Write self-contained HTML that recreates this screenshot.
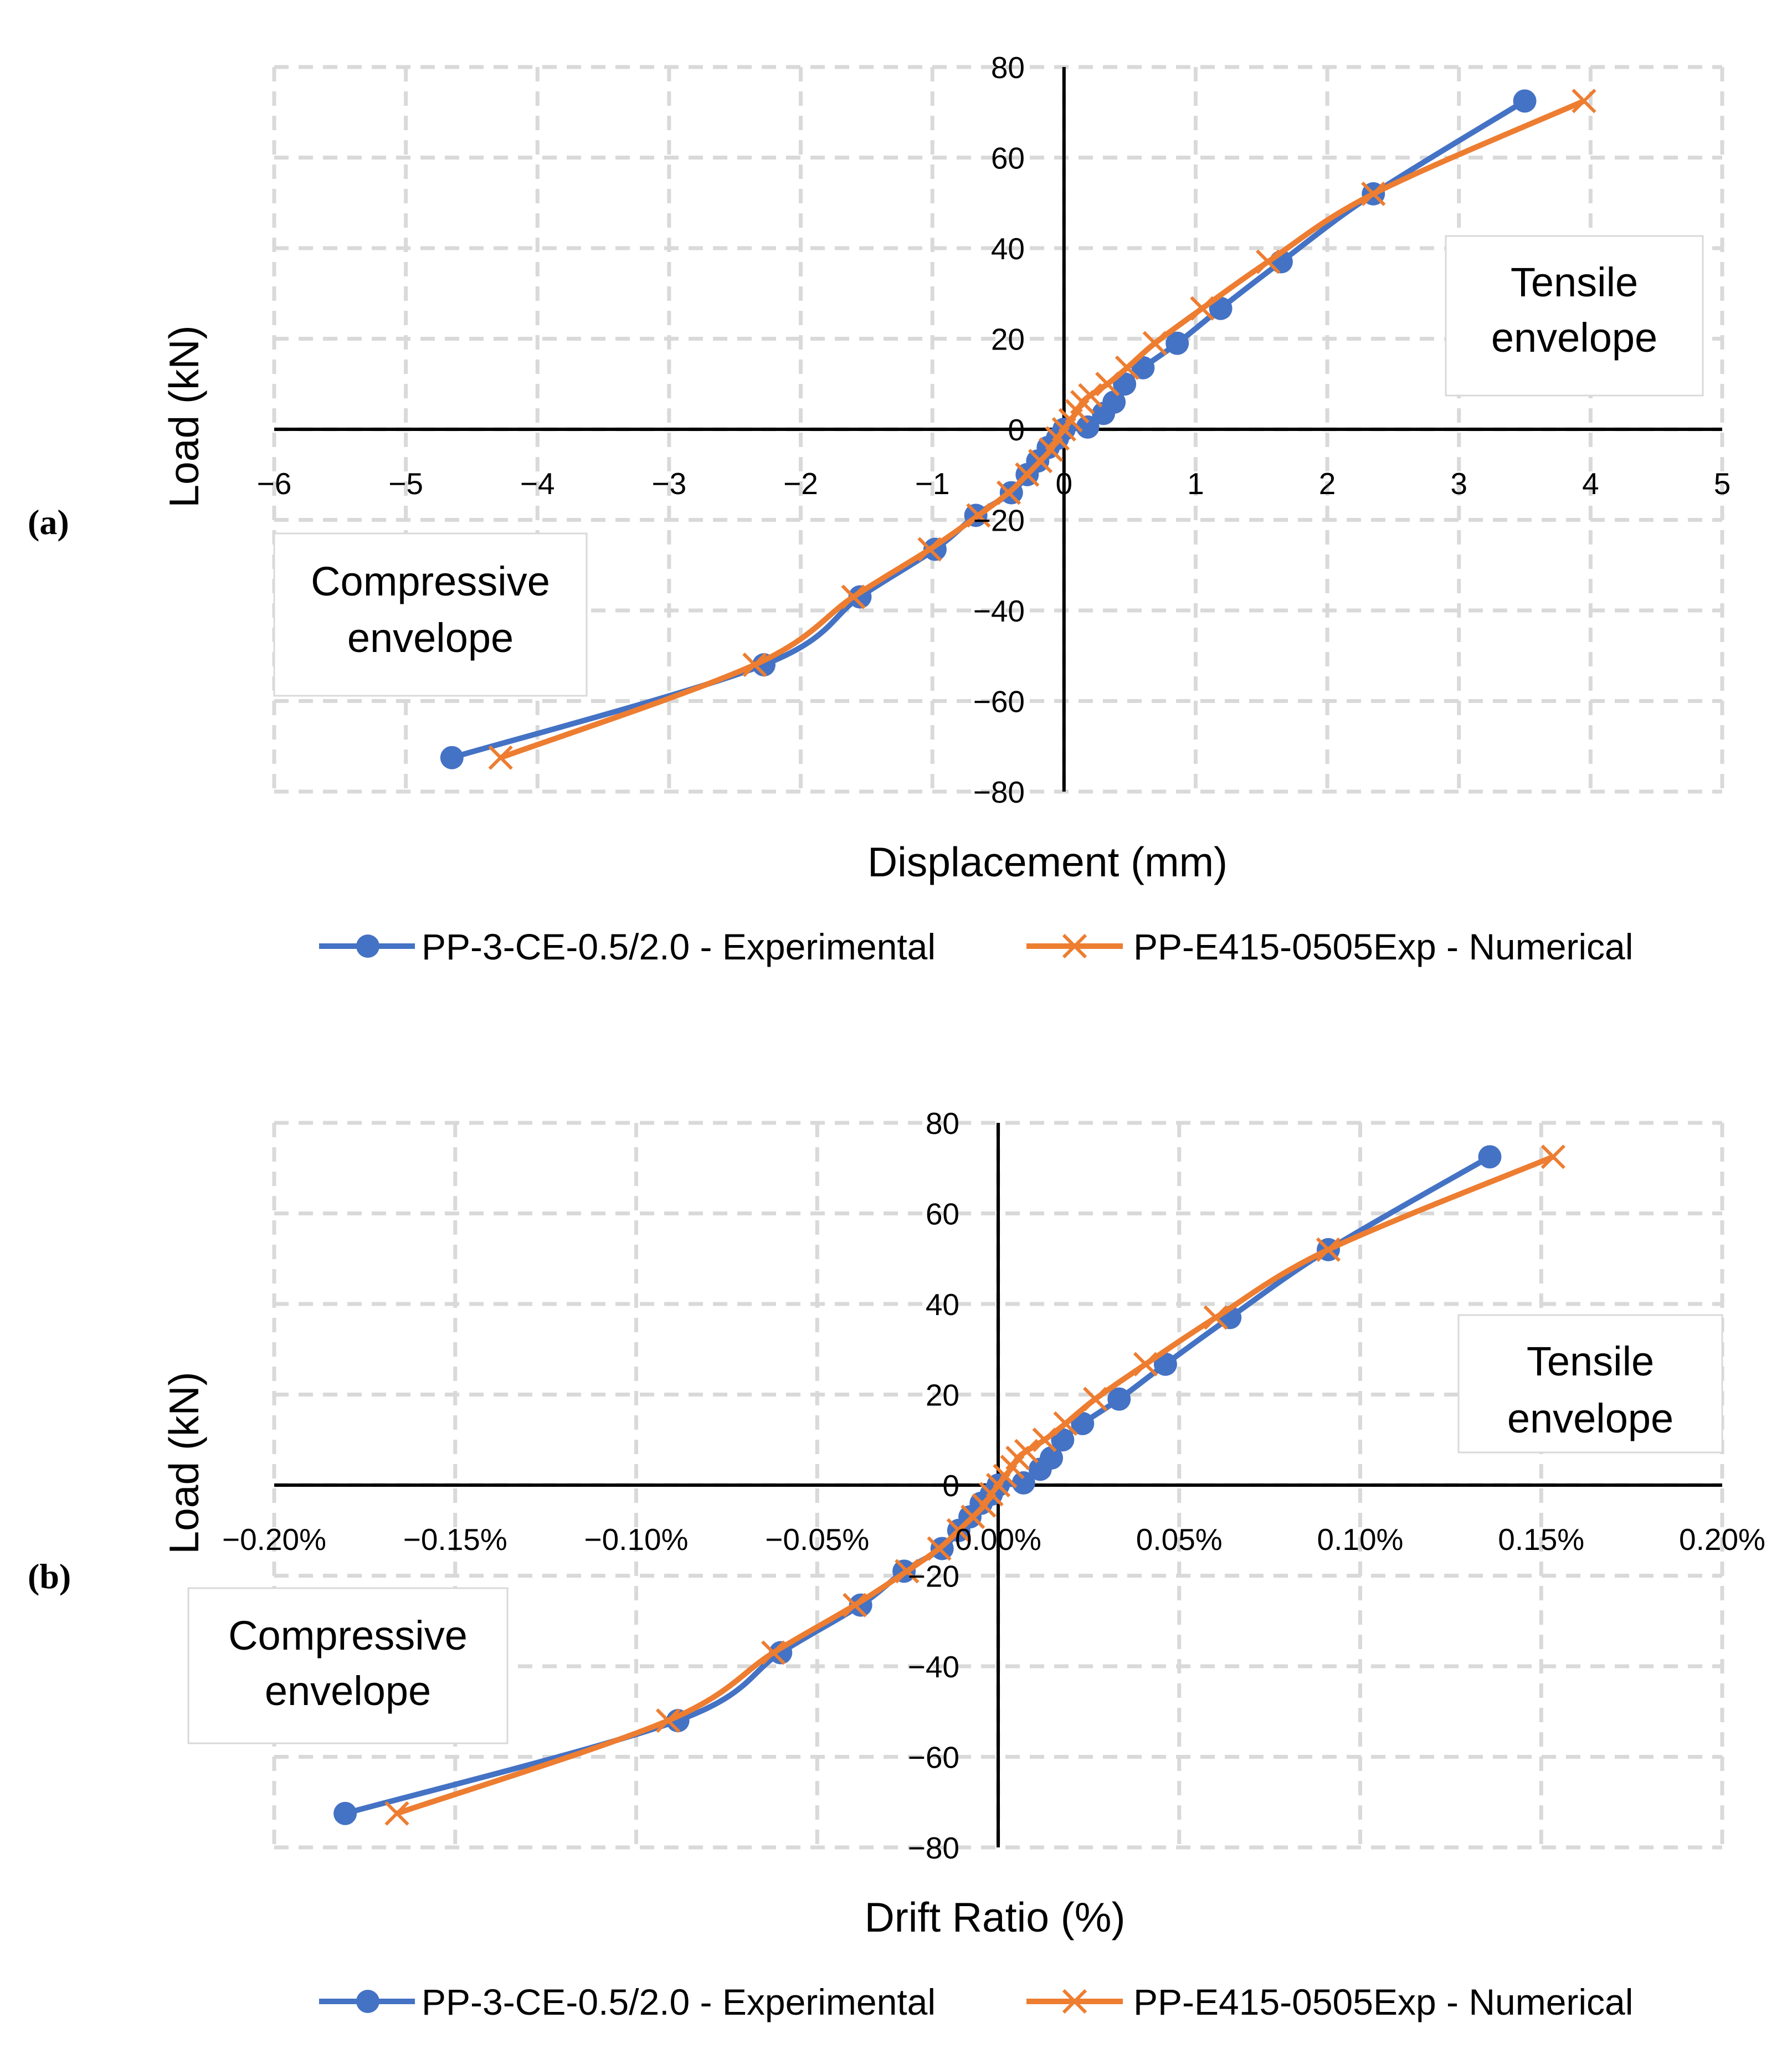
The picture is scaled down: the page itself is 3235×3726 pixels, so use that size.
<!DOCTYPE html>
<html><head><meta charset="utf-8"><style>
html,body{margin:0;padding:0;background:#fff}
svg{display:block;font-family:"Liberation Sans",sans-serif}
</style></head><body>
<svg id="c" width="3235" height="3726" viewBox="0 0 3235 3726" xmlns="http://www.w3.org/2000/svg">
<rect width="3235" height="3726" fill="#fff"/>
<g id="pa"></g>
<g id="pb"></g>
</svg>
<script>
const loadTicks=[-80,-60,-40,-20,0,20,40,60,80];
const dispTicks=[-6,-5,-4,-3,-2,-1,0,1,2,3,4,5];
const driftTicks=[-0.20,-0.15,-0.10,-0.05,0,0.05,0.10,0.15,0.20];
const driftTickLabels=["\u22120.20%","\u22120.15%","\u22120.10%","\u22120.05%","0.00%","0.05%","0.10%","0.15%","0.20%"];

const expLoad=[-72.5,-52,-37,-26.5,-19,-14,-10,-7,-4,-2,0,0.5,3.5,6,10,13.6,19,26.7,37,52,72.5];
const expDisp=[-4.65,-2.28,-1.55,-0.98,-0.67,-0.4,-0.28,-0.2,-0.12,-0.05,0,0.18,0.3,0.38,0.46,0.6,0.86,1.19,1.65,2.35,3.5];
const expDrift=[-0.1804,-0.0885,-0.0601,-0.0380,-0.0260,-0.0155,-0.0109,-0.0078,-0.0047,-0.0019,0,0.0070,0.0116,0.0147,0.0178,0.0233,0.0334,0.0462,0.0640,0.0912,0.1358];

const numLoad=[-72.5,-52,-37,-26.5,-19,-14,-10,-7,-4.5,-2,0,2,4,6,7.5,10,13.6,19,26.7,37,52,72.5];
const numDisp=[-4.28,-2.35,-1.6,-1.02,-0.65,-0.42,-0.28,-0.18,-0.1,-0.05,0,0.05,0.1,0.14,0.2,0.33,0.48,0.69,1.05,1.55,2.35,3.95];
const numDrift=[-0.1661,-0.0912,-0.0621,-0.0396,-0.0252,-0.0163,-0.0109,-0.0070,-0.0039,-0.0019,0,0.0019,0.0039,0.0054,0.0078,0.0128,0.0186,0.0268,0.0407,0.0601,0.0912,0.1533];

const NS="http://www.w3.org/2000/svg";
function mk(p,tag,a){const e=document.createElementNS(NS,tag);for(const k in a)e.setAttribute(k,a[k]);p.appendChild(e);return e;}
function smooth(pts){let d="M"+pts[0][0]+","+pts[0][1];for(let i=0;i<pts.length-1;i++){const p0=pts[i-1]||pts[i],p1=pts[i],p2=pts[i+1],p3=pts[i+2]||p2;const t=6;d+=" C"+(p1[0]+(p2[0]-p0[0])/t)+","+(p1[1]+(p2[1]-p0[1])/t)+" "+(p2[0]-(p3[0]-p1[0])/t)+","+(p2[1]-(p3[1]-p1[1])/t)+" "+p2[0]+","+p2[1];}return d;}

function panel(g,o){
  const L=495,R=3109,T=o.top,B=o.top+1308;
  const sx=v=>L+(v-o.xmin)/(o.xmax-o.xmin)*(R-L);
  const sy=v=>B-(v+80)/160*(B-T);
  const grid=mk(g,"g",{});
  
  
  o.xt.forEach(v=>{mk(grid,"line",{x1:sx(v),x2:sx(v),y1:T,y2:B,stroke:"#d9d9d9","stroke-width":7,"stroke-dasharray":"26,18"});});
  loadTicks.forEach(v=>{mk(grid,"line",{x1:L,x2:R,y1:sy(v),y2:sy(v),stroke:"#d9d9d9","stroke-width":7,"stroke-dasharray":"26,18"});});
  o.boxes.forEach(b=>{
    const bg=mk(g,"g",{});
    
    
    mk(bg,"rect",{x:b.x,y:b.y,width:b.w,height:b.h,fill:"#fff",stroke:"#d9d9d9","stroke-width":3});
    b.lines.forEach((t,i)=>{const e=mk(bg,"text",{x:b.x+b.w/2,y:b.ty[i],"font-size":74,"text-anchor":"middle"});e.textContent=t;});
  });
  const x0=sx(0),y0=sy(0);
  const ax=mk(g,"line",{x1:L,x2:R,y1:y0,y2:y0,stroke:"#000","stroke-width":6});
  
  
  const ay=mk(g,"line",{x1:x0,x2:x0,y1:T,y2:B,stroke:"#000","stroke-width":6});
  
  
  const ser=[{x:o.ex,y:expLoad,c:"#4472c4",m:"circle",n:"experimental-series"},{x:o.nx,y:numLoad,c:"#ed7d31",m:"cross",n:"numerical-series"}];
  ser.forEach(s=>{
    const sg=mk(g,"g",{});
    
    
    const pts=s.x.map((v,i)=>[sx(v),sy(s.y[i])]);
    mk(sg,"path",{d:smooth(pts),fill:"none",stroke:s.c,"stroke-width":10,"stroke-linejoin":"round"});
    pts.forEach(p=>{
      if(s.m==="circle"){const c=mk(sg,"circle",{cx:p[0],cy:p[1],r:21,fill:s.c});}
      else{const c=mk(sg,"path",{d:`M${p[0]-20},${p[1]-20}L${p[0]+20},${p[1]+20}M${p[0]-20},${p[1]+20}L${p[0]+20},${p[1]-20}`,stroke:s.c,"stroke-width":6});}
    });
  });
  o.xt.forEach((v,i)=>{const e=mk(g,"text",{x:sx(v),y:y0+117,"font-size":55,"text-anchor":"middle"});e.textContent=o.xl[i];
    
    });
  loadTicks.forEach(v=>{const e=mk(g,"text",{x:o.ylx,y:sy(v)+20,"font-size":55,"text-anchor":"end"});e.textContent=String(v).replace("-","\u2212");
    
    });
  const xt=mk(g,"text",{x:o.xtx,y:o.xty,"font-size":75,"text-anchor":"middle"});xt.textContent=o.xtitle;
  
  
  const yt=mk(g,"text",{x:0,y:0,"font-size":75,"text-anchor":"middle",transform:`translate(358,${o.yty}) rotate(-90)`});yt.textContent="Load (kN)";
  
  
  const pl=mk(g,"text",{x:50,y:o.ply,"font-size":64,"font-weight":"bold","font-family":"Liberation Serif, serif"});pl.textContent=o.plab;
  
  
  const lg=mk(g,"g",{});
  
  
  const ly=o.legy;
  const e1=mk(lg,"g",{});
  
  
  mk(e1,"line",{x1:576,x2:749,y1:ly,y2:ly,stroke:"#4472c4","stroke-width":10});
  mk(e1,"circle",{cx:664,cy:ly,r:21,fill:"#4472c4"});
  const t1=mk(e1,"text",{x:761,y:ly+24,"font-size":66});t1.textContent="PP-3-CE-0.5/2.0 - Experimental";
  const e2=mk(lg,"g",{});
  
  
  mk(e2,"line",{x1:1853,x2:2027,y1:ly,y2:ly,stroke:"#ed7d31","stroke-width":10});
  mk(e2,"path",{d:`M1920,${ly-20}L1960,${ly+20}M1920,${ly+20}L1960,${ly-20}`,stroke:"#ed7d31","stroke-width":6});
  const t2=mk(e2,"text",{x:2046,y:ly+24,"font-size":66});t2.textContent="PP-E415-0505Exp - Numerical";
}
panel(document.getElementById("pa"),{top:121,xmin:-6,xmax:5,xt:dispTicks,xl:dispTicks.map(v=>String(v).replace("-","\u2212")),
  ex:expDisp,nx:numDisp,ylx:1850,xtitle:"Displacement (mm)",xtx:1891,xty:1582,yty:752,plab:"(a)",ply:964,legy:1708,
  boxes:[{name:"tensile-envelope-label",x:2610,y:426,w:464,h:288,lines:["Tensile","envelope"],ty:[535,635]},
         {name:"compressive-envelope-label",x:495,y:963,w:564,h:293,lines:["Compressive","envelope"],ty:[1075,1177]}]});
panel(document.getElementById("pb"),{top:2027,xmin:-0.2,xmax:0.2,xt:driftTicks,xl:driftTickLabels,
  ex:expDrift,nx:numDrift,ylx:1732,xtitle:"Drift Ratio (%)",xtx:1796,xty:3487,yty:2641,plab:"(b)",ply:2867,legy:3613,
  boxes:[{name:"tensile-envelope-label",x:2633,y:2374,w:476,h:248,lines:["Tensile","envelope"],ty:[2483,2586]},
         {name:"compressive-envelope-label",x:340,y:2867,w:576,h:280,lines:["Compressive","envelope"],ty:[2978,3078]}]});
</script>
</body></html>
